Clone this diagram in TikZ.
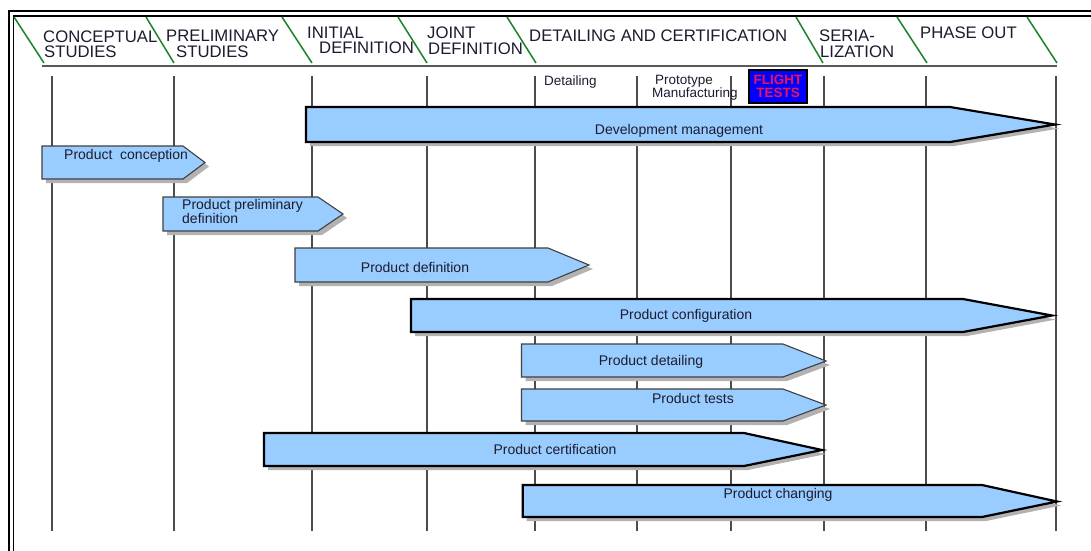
\documentclass[tikz,border=0pt]{standalone}
\usepackage{fontspec}
\setmainfont{Liberation Sans}
\definecolor{barblue}{RGB}{153,204,255}
\definecolor{txt}{RGB}{28,28,48}
\definecolor{phasegreen}{RGB}{30,130,40}
\definecolor{flightred}{RGB}{235,20,90}
\newcommand\arrowbar[7]{%
  \fill[barshadow] ({#2+4},{#3+4}) -- ({#5+4},{#3+4}) -- ({#6+4},{#7+4}) -- ({#5+4},{#4+4}) -- ({#2+4},{#4+4}) -- cycle;
  \path[#1] (#2,#3) -- (#5,#3) -- (#6,#7) -- (#5,#4) -- (#2,#4) -- cycle;}
\begin{document}
\begin{tikzpicture}[x=1pt,y=-1pt,
  vline/.style={draw=black!70, line width=1.3pt},
  phase/.style={draw=phasegreen, line width=1.5pt},
  hdr/.style={font=\fontsize{16.7}{16}\selectfont, text=txt, inner sep=0pt, anchor=base west},
  sub/.style={font=\fontsize{13.5}{13}\selectfont, text=txt, inner sep=0pt, anchor=base west},
  lbl/.style={font=\fontsize{14}{15}\selectfont, text=txt, inner sep=0pt},
  thinbar/.style={fill=barblue, draw=black!75, line width=1.1pt},
  thickbar/.style={fill=barblue, draw=black, line width=2.2pt, line join=miter},
  barshadow/.style={fill=black!30}]
\useasboundingbox (0,0) rectangle (1091,550);
\fill[white] (0,0) rectangle (1091,550);
% frame
\draw[line width=2pt] (9,551) -- (9,11) -- (1092,11);
\draw[line width=1.2pt] (13.5,551) -- (13.5,16) -- (1092,16);
% header bottom line
\draw[black!65, line width=1.2pt] (42,66) -- (1057,66);
% phase separators
\foreach \a/\b in {14/44,146/174,282/312,398/427,507/536,796/823,897/927,1027/1057}
  \draw[phase] (\a,17) -- (\b,63);
% vertical grid lines
\foreach \x in {52,174,312,427,535,637,731,824,926,1056}
  \draw[vline] (\x,76) -- (\x,531);
% header texts
\node[hdr] (h1a) at (43,42) {CONCEPTUAL};
\node[hdr] (h1b) at (44,57) {STUDIES};
\node[hdr] (h2a) at (166,41) {PRELIMINARY};
\node[hdr] (h2b) at (176,57) {STUDIES};
\node[hdr] (h3a) at (307,38) {INITIAL};
\node[hdr] (h3b) at (319,53) {DEFINITION};
\node[hdr] (h4a) at (427,38) {JOINT};
\node[hdr] (h4b) at (428,54) {DEFINITION};
\node[hdr] (h5) at (529,41) {DETAILING AND CERTIFICATION};
\node[hdr] (h6a) at (819,41) {SERIA-};
\node[hdr] (h6b) at (820,57) {LIZATION};
\node[hdr] (h7) at (920,38) {PHASE OUT};
% sub headers
\node[sub] (s1) at (544,85) {Detailing};
\node[sub] (s2a) at (655,84) {Prototype};
\node[sub] (s2b) at (652,97) {Manufacturing};
\node[draw=black, line width=1.6pt, fill=blue, text=flightred, minimum width=58pt, minimum height=33pt, inner sep=0pt, align=center,
  font=\fontsize{13.5}{12.5}\selectfont\bfseries] (flight) at (778,86.5) {FLIGHT\\TESTS};
% bars
\arrowbar{thickbar}{306}{107}{142}{950}{1055}{124.5}
\node[lbl] (dm) at (679,131) {Development management};
\arrowbar{thinbar}{42}{146}{179}{183}{205}{162.5}
\node[lbl, anchor=west] (pc) at (64,156) {Product\ \ conception};
\arrowbar{thinbar}{163}{197}{231}{318}{343}{214}
\node[lbl, anchor=north west, align=left, font=\fontsize{14}{14.5}\selectfont] (ppd) at (182,199) {Product preliminary\\definition};
\arrowbar{thinbar}{295}{248}{282}{548}{589}{265}
\node[lbl] (pd) at (415,267) {Product definition};
\arrowbar{thickbar}{411}{299}{332}{963}{1052}{315.5}
\node[lbl] (pcf) at (686,316) {Product configuration};
\arrowbar{thinbar}{521.5}{344}{377}{783}{826}{361}
\node[lbl] (pdt) at (651,362) {Product detailing};
\arrowbar{thinbar}{521.5}{389}{421}{783}{826}{405}
\node[lbl] (pt) at (693,398.5) {Product tests};
\arrowbar{thickbar}{264}{433}{466}{744}{822}{450}
\node[lbl] (pce) at (555,449) {Product certification};
\arrowbar{thickbar}{522.7}{485}{517}{982}{1057}{501.5}
\node[lbl] (pch) at (778,495) {Product changing};
\end{tikzpicture}
\end{document}
